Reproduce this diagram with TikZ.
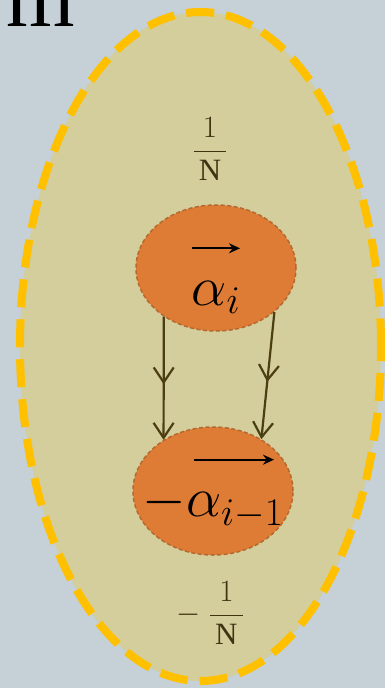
\documentclass[tikz,border=0pt]{standalone}
\usepackage{fix-cm}
\usepackage{amsmath}
\usepackage{fontspec}
\setmainfont{Liberation Serif}
\usepackage{tikz}
\usetikzlibrary{shapes.geometric, arrows.meta, decorations.markings}
\definecolor{slatebg}{HTML}{C5D0D7}
\definecolor{ringgold}{HTML}{FFC000}
\definecolor{ringfill}{HTML}{D4CD9C}
\definecolor{nodefill}{HTML}{DE7C35}
\definecolor{nodeedge}{HTML}{B5692E}
\definecolor{arrowbrown}{HTML}{4B3F12}
\definecolor{fracbrown}{HTML}{3F3312}
% small vector arrow of a given length
\newcommand{\vecarrow}[1]{\tikz[baseline=-4pt]\draw[line width=2pt, -{Stealth[length=11pt,width=10pt]}] (0pt,0pt) -- (#1,0pt);}
\tikzset{
  ring/.style={ellipse, draw=ringgold, line width=8pt, dash pattern=on 28pt off 12pt, fill=ringfill, minimum width=361pt, minimum height=669pt, inner sep=0pt},
  vecnode/.style={ellipse, draw=nodeedge, line width=1.5pt, dash pattern=on 4pt off 2.5pt, fill=nodefill, minimum width=160pt, minimum height=126pt,
    inner xsep=-20pt, inner ysep=-25pt, align=center, font=\fontsize{56}{53}\selectfont},
  fraclabel/.style={text=fracbrown, font=\fontsize{31}{36}\selectfont, inner sep=0pt},
  titlefrag/.style={font=\fontsize{88}{88}\selectfont, inner sep=0pt},
  arrowline/.style={draw=arrowbrown, line width=2.2pt, -{Straight Barb[length=15pt,width=20pt]}, postaction={decorate},
    decoration={markings, mark=at position 0.55 with {\arrow{Straight Barb[length=15pt,width=20pt]}}}},
}

\begin{document}
\begin{tikzpicture}[x=1pt, y=-1pt]
\path[use as bounding box, fill=slatebg] (0,0) rectangle (385,688);
\node[titlefrag, anchor=base west] (heading) at (6,26) {m};
\node[ring] (ring) at (200.5,346.5) {};
\node[fraclabel] (upper) at (210,149) {$\dfrac{1}{\,\mathrm{N}\,}$};
\node[vecnode] (alphai) at (216,268) {\rule{0pt}{30pt}\vecarrow{48pt}\\ $\alpha_{i}$};
\node[vecnode, minimum height=128pt] (alphaprev) at (213,491) {\rule{0pt}{10pt}\hspace*{42pt}\vecarrow{80pt}\\ $-\alpha_{i-1}$};
\node[fraclabel] (lower) at (210,613) {$-\;\dfrac{1}{\,\mathrm{N}\,}$};

\draw[arrowline] (alphai.223) -- (alphaprev.134);
\draw[arrowline] (alphai.323) -- (alphaprev.47);
\end{tikzpicture}
\end{document}
